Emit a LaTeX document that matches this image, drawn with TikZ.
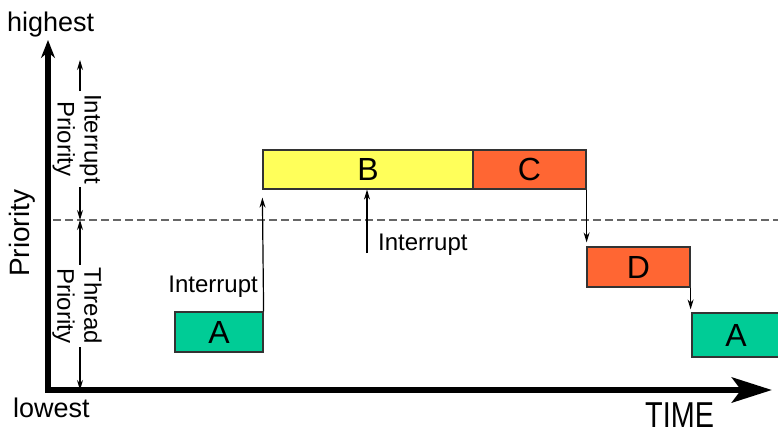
\documentclass[tikz,border=0pt]{standalone}
\usepackage{fontspec}
\setmainfont{Liberation Sans}
\usetikzlibrary{arrows.meta, calc}

\definecolor{taskgreen}{RGB}{0,204,150}
\definecolor{taskyellow}{RGB}{255,255,90}
\definecolor{taskred}{RGB}{255,102,51}

\begin{document}
\begin{tikzpicture}[x=1pt,y=-1pt,
	task/.style={draw=black!80, line width=1.2pt, inner sep=0pt, font=\fontsize{32}{32}\selectfont},
	lbl/.style={inner sep=0pt, font=\fontsize{24}{27}\selectfont},
	jump/.style={line width=1.2pt, -{Stealth[length=10pt,width=6pt]}},
	]
	\useasboundingbox (0,0) rectangle (778,438);

	% axes
	\coordinate (top) at (48,40);
	\coordinate (origin) at (48,390);
	\coordinate (right) at (772,390);
	\draw[line width=6.5pt, {Stealth[length=18pt,width=14pt]}-{Stealth[length=40pt,width=25pt,inset=9pt]}]
	(top) -- (origin) -- (right);
	\draw[line width=2pt, gray!80!black, dash pattern=on 8pt off 4pt] (53,220) -- (778,220);

	\node[lbl, anchor=base west, font=\fontsize{27}{27}\selectfont] (highest) at (7,32) {highest};
	\node[lbl, anchor=base west, font=\fontsize{27}{27}\selectfont] (lowest) at (13,417) {lowest};
	\node[lbl, anchor=base west, rotate=90, font=\fontsize{28}{28}\selectfont] (prio) at (29,277) {Priority};
	\node[lbl, anchor=base west, xscale=0.8, font=\fontsize{36}{36}\selectfont] (time) at (645,427) {TIME};

	% priority bands
	\coordinate (ptop) at (80,60);
	\coordinate (pmid) at (80,220);
	\coordinate (pbot) at (80,390);
	\node[lbl, rotate=-90, align=center, inner sep=3pt] (ip) at (77,139) {Interrupt\\Priority};
	\node[lbl, rotate=-90, align=center, inner sep=3pt] (tp) at (77,306) {Thread\\Priority};
	\draw[jump] (ip.west -| ptop) -- (ptop);
	\draw[jump] (ip.east -| pmid) -- (pmid);
	\draw[jump] (tp.west -| pmid) -- (pmid);
	\draw[jump] (tp.east -| pbot) -- (pbot);

	% tasks
	\node[task, fill=taskgreen, minimum width=88, minimum height=40] (a1) at (219,332) {A};
	\node[task, fill=taskyellow, minimum width=210, minimum height=39] (b) at (368,169.5) {B};
	\node[task, fill=taskred, minimum width=113, minimum height=39] (c) at (529.5,169.5) {C};
	\node[task, fill=taskred, minimum width=103, minimum height=40] (d) at (638.5,267) {D};
	\node[task, fill=taskgreen, minimum width=88, minimum height=44] (a2) at (736,335) {A};

	% switches
	\draw[jump] (a1.north east) -- ($(b.south west)+(0,8)$);
	\node[lbl, anchor=base east] (irq1) at (258,292) {Interrupt};
	\coordinate (irq) at (367,253);
	\draw[jump] (irq) -- (irq |- b.south);
	\node[lbl, anchor=base west] (irq2) at (378,250) {Interrupt};
	\draw[jump] (c.south east) -- ($(c.south east |- d.north)+(0,-4)$);
	\draw[jump] (d.south east) -- ($(d.south east |- a2.north)+(0,-3)$);
\end{tikzpicture}
\end{document}
